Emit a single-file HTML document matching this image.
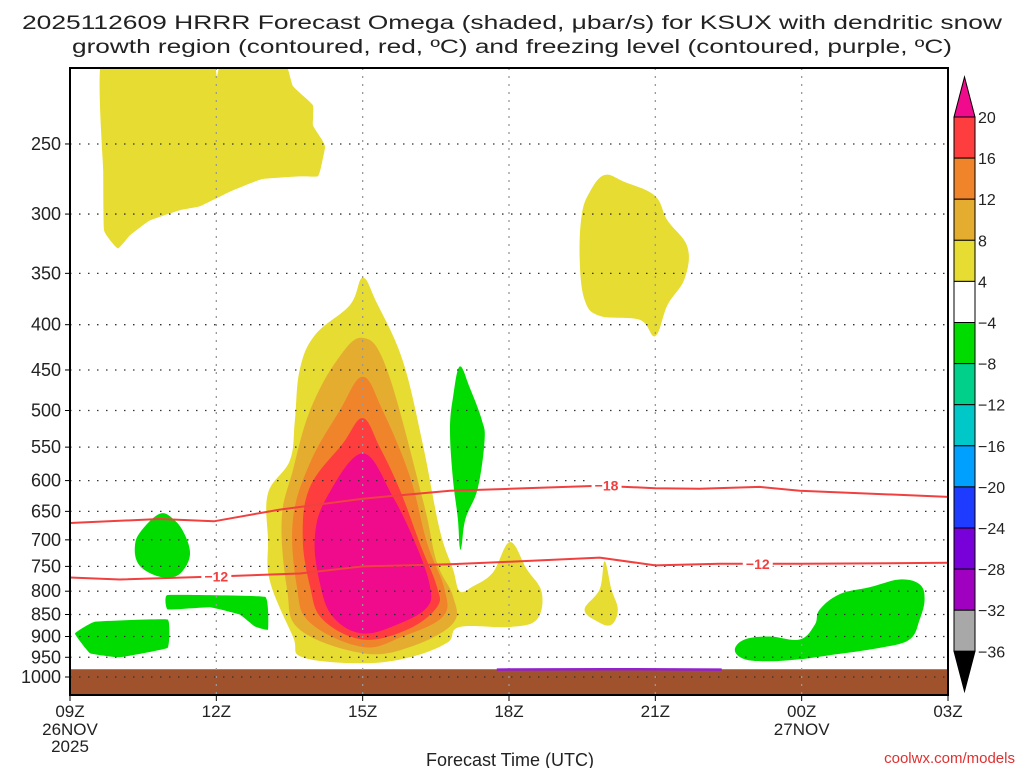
<!DOCTYPE html>
<html><head><meta charset="utf-8"><style>
html,body{margin:0;padding:0;background:#fff;}
svg{display:block;font-family:"Liberation Sans",sans-serif;}
</style></head><body>
<svg id="chart" width="1024" height="768" viewBox="0 0 1024 768" xmlns="http://www.w3.org/2000/svg">
<text x="512" y="29" text-anchor="middle" font-size="19" fill="#222" textLength="980" lengthAdjust="spacingAndGlyphs">2025112609 HRRR Forecast Omega (shaded, μbar/s) for KSUX with dendritic snow</text>
<text x="512" y="53" text-anchor="middle" font-size="19" fill="#222" textLength="880" lengthAdjust="spacingAndGlyphs">growth region (contoured, red, ºC) and freezing level (contoured, purple, ºC)</text>
<text x="510" y="766" text-anchor="middle" font-size="18" fill="#222">Forecast Time (UTC)</text>
<text x="1015" y="763" text-anchor="end" font-size="15" fill="#e03030">coolwx.com/models</text>
<g id="plot"></g>
<g id="cbar"></g>
</svg>
<script>
// ---- data ----
const pTicks=[250,300,350,400,450,500,550,600,650,700,750,800,850,900,950,1000];
const xTickHours=[0,3,6,9,12,15,18];
const xTickLabels=["09Z","12Z","15Z","18Z","21Z","00Z","03Z"];
const xTickSub={0:["26NOV","2025"],15:["27NOV"]};
const cbLevels=[20,16,12,8,4,-4,-8,-12,-16,-20,-24,-28,-32,-36];
const cbColors=["#fe3e3e","#f0842a","#e5ad30","#e6dc32","#ffffff","#00dc00","#00d08a","#00c8c8","#00a0ff","#1e3cff","#7800d8","#a000c0","#a8a8a8"];
const cbTop="#f00a8c", cbBottom="#000000";
// shaded omega regions: [hour since 09Z, pressure hPa]
const yellowTopLeft=[[0.66,200],[2.87,200],[3.01,210],[3.14,200],[4.36,200],[4.57,215],[4.98,226],[4.98,238],[5.16,247],[5.23,252],[5.15,265],[5.08,272],[4.71,272],[3.93,274],[3.28,283],[2.66,294],[2.25,297],[1.64,305],[1.23,317],[0.98,328],[0.7,313],[0.68,268]];
const yellowUpper21=[[10.96,271],[11.37,276],[11.99,286],[12.25,305],[12.66,327],[12.6,355],[12.25,380],[12.0,412],[11.68,395],[10.86,391],[10.55,375],[10.45,338],[10.49,301],[10.66,283]];
const yellowSmall20=[[10.96,740],[11.1,796],[11.23,839],[11.1,873],[10.82,866],[10.55,839],[10.86,796]];
const yellowMain=[[6.0,354],[5.74,380],[5.02,411],[4.71,450],[4.61,513],[4.51,569],[4.06,620],[4.06,700],[4.1,780],[4.57,900],[4.77,950],[6.0,965],[6.97,950],[7.73,915],[7.99,878],[9.02,878],[9.57,861],[9.67,802],[9.36,755],[9.02,704],[8.67,762],[8.26,790],[7.99,800],[7.85,755],[7.58,682],[7.23,545],[6.82,439],[6.29,378]];
const omega8=[[6,414],[5.47,439],[4.92,500],[4.57,584],[4.34,664],[4.45,796],[4.71,884],[6,940],[6.97,925],[7.85,870],[7.85,810],[7.52,742],[7.23,630],[6.5,450]];
const omega12=[[6,458],[5.53,500],[4.92,573],[4.57,664],[4.65,790],[4.92,868],[6,925],[6.82,900],[7.64,855],[7.68,796],[7.32,706],[6.97,594],[6.41,500]];
const omega16=[[6,510],[5.59,545],[4.92,610],[4.77,694],[4.92,790],[5.18,861],[6,907],[6.91,884],[7.52,834],[7.52,790],[7.17,706],[6.76,614],[6.35,550]];
const omega20=[[6,559],[5.27,626],[5.02,694],[5.12,782],[5.39,855],[6,893],[6.76,870],[7.32,834],[7.38,790],[7.11,713],[6.62,626]];
const greenTall=[[7.99,446],[8.2,472],[8.44,512],[8.5,540],[8.36,612],[8.11,662],[8.03,710],[7.99,713],[7.95,662],[7.85,597],[7.79,527],[7.85,484]];
const greenLeft1=[[1.84,654],[2.13,664],[2.35,690],[2.46,727],[2.3,760],[2.05,772],[1.7,766],[1.4,745],[1.33,712],[1.45,685]];
const greenLeft2=[[0.1,893],[0.51,866],[2.0,861],[2.0,927],[1.02,950],[0.41,940]];
const greenMid=[[2.0,808],[4.0,812],[4.06,884],[3.79,877],[3.48,850],[2.87,834],[2.0,839]];
const greenRight=[[13.63,932],[13.83,907],[14.34,900],[14.96,907],[15.27,873],[15.37,839],[15.78,806],[16.39,792],[17.01,776],[17.42,786],[17.52,817],[17.42,861],[17.21,907],[16.6,927],[15.57,945],[14.96,955],[14.34,960],[13.83,955]];
// dendritic growth contours
const dgzHours18=[0,1.84,2.95,4.3,6,7.79,9.02,10.86,12.0,12.91,14.14,14.96,18];
const dgzP18=[670,663,667,647,629,616,613,608,612,613,610,616,626];
const dgzHours12=[0,1.02,3.0,4.71,6,7.79,9.02,10.86,12.0,13.32,14.96,18];
const dgzP12=[772,776,770,764,750,746,741,733,748,745,745,743];
const frzHours=[8.75,11,13.36];
const frzP=[981,980,981];
const groundP=980;
// ---- axes ----
const X0=70,X1=948,Y0=68,Y1=695;
const xs=h=>X0+h*(X1-X0)/18;
const ys=p=>677+384.5*Math.log(p/1000);
const NS="http://www.w3.org/2000/svg";
function mk(tag,attrs,parent){const e=document.createElementNS(NS,tag);for(const k in attrs)e.setAttribute(k,attrs[k]);parent.appendChild(e);return e;}
const plot=document.getElementById('plot');
const clip=mk('clipPath',{id:'pc'},plot);
mk('rect',{x:X0,y:Y0,width:X1-X0,height:Y1-Y0},clip);
const inner=mk('g',{'clip-path':'url(#pc)'},plot);


function smoothClosed(P,t){
  const n=P.length;let d='M'+P[0][0].toFixed(1)+','+P[0][1].toFixed(1);
  for(let i=0;i<n;i++){
    const p0=P[(i-1+n)%n],p1=P[i],p2=P[(i+1)%n],p3=P[(i+2)%n];
    const c1=[p1[0]+(p2[0]-p0[0])*t,p1[1]+(p2[1]-p0[1])*t];
    const c2=[p2[0]-(p3[0]-p1[0])*t,p2[1]-(p3[1]-p1[1])*t];
    d+=' C'+c1[0].toFixed(1)+','+c1[1].toFixed(1)+' '+c2[0].toFixed(1)+','+c2[1].toFixed(1)+' '+p2[0].toFixed(1)+','+p2[1].toFixed(1);
  }
  return d+'Z';
}
function poly(pts,fill,name,t){
  const P=pts.map(q=>[xs(q[0]),ys(q[1])]);
  const e=mk('path',{d:smoothClosed(P,t===undefined?0.18:t),fill:fill},inner);
  
  
}
poly(yellowTopLeft,"#e6dc32","omega-4-upper-left",0.06);
poly(yellowUpper21,"#e6dc32","omega-4-upper-21z");
poly(yellowMain,"#e6dc32","omega-4-main");
poly(yellowSmall20,"#e6dc32","omega-4-small-20z");
poly(omega8,"#e5ad30","omega-8-region");
poly(omega12,"#f0842a","omega-12-region");
poly(omega16,"#fe3e3e","omega-16-region");
poly(omega20,"#f00a8c","omega-20-region");
poly(greenTall,"#00dc00","omega-neg4-tall");
poly(greenLeft1,"#00dc00","omega-neg4-left-1");
poly(greenLeft2,"#00dc00","omega-neg4-left-2",0.04);
poly(greenMid,"#00dc00","omega-neg4-mid",0.04);
poly(greenRight,"#00dc00","omega-neg4-right");
// ground
const gr=mk('rect',{x:X0,y:ys(groundP),width:X1-X0,height:Y1-ys(groundP),fill:"#a0522d"},inner);


// grid
pTicks.forEach(p=>{
  const l=mk('line',{x1:X0,x2:X1,y1:ys(p),y2:ys(p),stroke:"#333",'stroke-width':1.3,'stroke-dasharray':"1.5 7.5"},inner);
  
  
});
xTickHours.forEach(h=>{
  const l=mk('line',{x1:xs(h),x2:xs(h),y1:Y0,y2:Y1,stroke:"#999",'stroke-width':1.3,'stroke-dasharray':"2 6"},inner);
  
  
});
// contours
function line(hs,ps,color,name,w){
  const d=hs.map((h,i)=>(i?'L':'M')+xs(h).toFixed(1)+','+ys(ps[i]).toFixed(1)).join(' ');
  const e=mk('path',{d:d,fill:'none',stroke:color,'stroke-width':w,'stroke-linejoin':'round'},inner);
  
  
}
line(dgzHours18,dgzP18,"#f04040","dgz-contour-minus18",2);
line(dgzHours12,dgzP12,"#f04040","dgz-contour-minus12",2);
line(frzHours,frzP,"#9020d0","freezing-level-contour",2.5);
function clabel(txt,h,p,name){
  const r=mk('rect',{x:xs(h)-15,y:ys(p)-8,width:30,height:16,fill:'#fff'},inner);
  
  
  const t=mk('text',{x:xs(h),y:ys(p)+5,'text-anchor':'middle','font-size':14,'font-weight':'bold',fill:'#f04040'},inner);
  t.textContent=txt;
  
  
}
clabel("−18",11.0,608,"contour-label-minus18");
clabel("−12",3.0,770,"contour-label-minus12-left");
clabel("−12",14.1,745,"contour-label-minus12-right");
// frame
const fr=mk('rect',{x:X0,y:Y0,width:X1-X0,height:Y1-Y0,fill:'none',stroke:'#000','stroke-width':2},plot);


// y ticks
pTicks.forEach(p=>{
  mk('line',{x1:X0-5,x2:X0,y1:ys(p),y2:ys(p),stroke:'#000','stroke-width':1},plot);
  const t=mk('text',{x:X0-9,y:ys(p)+6,'text-anchor':'end','font-size':18,fill:'#222'},plot);
  t.textContent=p;
  
  
});
xTickHours.forEach((h,i)=>{
  mk('line',{x1:xs(h),x2:xs(h),y1:Y1,y2:Y1+6,stroke:'#000','stroke-width':1},plot);
  const t=mk('text',{x:xs(h),y:Y1+22,'text-anchor':'middle','font-size':17,fill:'#222'},plot);
  t.textContent=xTickLabels[i];
  
  
  (xTickSub[h]||[]).forEach((s,j)=>{
    const u=mk('text',{x:xs(h),y:Y1+40+j*17,'text-anchor':'middle','font-size':17,fill:'#222'},plot);
    u.textContent=s;
    
    
  });
});
// colorbar
const cb=document.getElementById('cbar');
const CX=954,CW=21,CT=117,CS=41.1;
const tt=mk('polygon',{points:`${CX},${CT} ${CX+CW},${CT} ${CX+CW/2},${CT-40}`,fill:cbTop,stroke:'#000','stroke-width':1},cb);


cbColors.forEach((c,i)=>{
  const r=mk('rect',{x:CX,y:CT+i*CS,width:CW,height:CS,fill:c,stroke:'#000','stroke-width':1},cb);
  
  
});
const yb=CT+cbColors.length*CS;
const bt=mk('polygon',{points:`${CX},${yb} ${CX+CW},${yb} ${CX+CW/2},${yb+40}`,fill:cbBottom,stroke:'#000','stroke-width':1},cb);


cbLevels.forEach((v,i)=>{
  const t=mk('text',{x:CX+CW+3,y:CT+i*CS+6,'font-size':16,fill:'#222'},cb);
  t.textContent=(v<0?'−':'')+Math.abs(v);
  
  
});
</script>
</body></html>
